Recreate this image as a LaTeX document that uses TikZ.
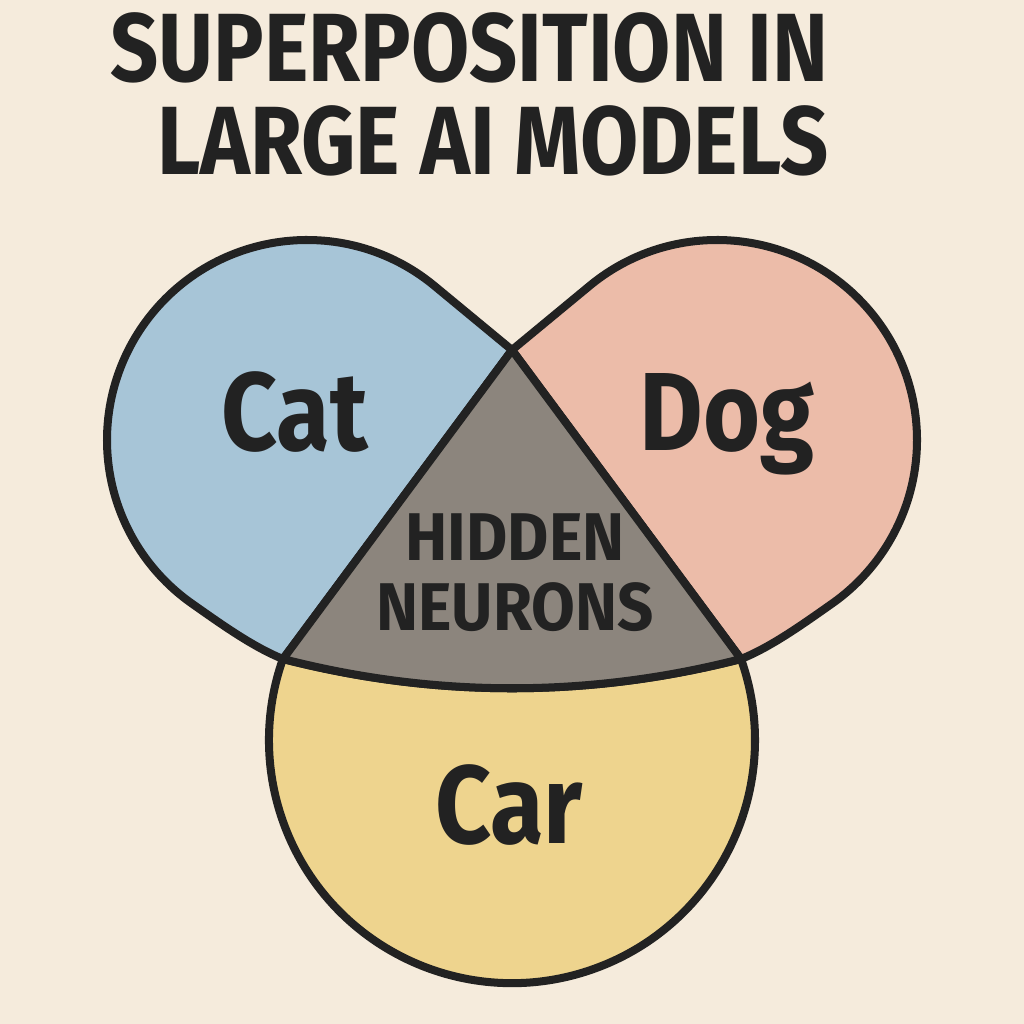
\documentclass[tikz,border=0pt]{standalone}
\usepackage{fontspec}
\setmainfont{Fira Sans}
\newfontfamily\ttlfont[FakeStretch=0.87]{Fira Sans}
\newfontfamily\lblfont[FakeStretch=0.88]{Fira Sans}
\newfontfamily\hidfont[FakeStretch=0.94]{Fira Sans}
\usetikzlibrary{calc}
\definecolor{paper}{HTML}{F5EBDC}
\definecolor{ink}{HTML}{222222}
\definecolor{catblue}{HTML}{A7C5D7}
\definecolor{dogpink}{HTML}{ECBCA9}
\definecolor{carsand}{HTML}{EED48E}
\definecolor{hidgray}{HTML}{8C857D}

\begin{document}
\begin{tikzpicture}[x=0.025cm,y=-0.025cm,line join=round]
	\tikzstyle{blob}=[draw=ink,line width=5.7pt]
	\tikzstyle{lbl}=[inner sep=0pt,anchor=base,text=ink,
	font=\lblfont\bfseries\fontsize{79}{80}\selectfont]
	\tikzstyle{hid}=[lbl,font=\hidfont\bfseries\fontsize{48}{50}\selectfont]
	\tikzstyle{ttl}=[inner sep=0pt,anchor=base west,text=ink,
	font=\ttlfont\bfseries\fontsize{69}{70}\selectfont]
\fill[paper] (0,0) rectangle (1024,1024);

\coordinate (T) at (512,350);
\coordinate (L) at (283,659);
\coordinate (R) at (741,659);
\coordinate (c1) at ($(307,440)+(-51:200)$);
\coordinate (d1) at ($(717,440)+(-129:200)$);

%\draw (307,440) circle (200);
\filldraw[blob,fill=catblue] (T) -- (c1) arc[start angle=-51,end angle=-235,radius=200]
	.. controls (221,624) and (253,647) .. (L) -- cycle;
\filldraw[blob,fill=dogpink] (T) -- (d1) arc[start angle=-129,end angle=55,radius=200]
	.. controls (803,624) and (771,647) .. (R) -- cycle;
\filldraw[blob,fill=carsand] (L) .. controls (435,698) and (589,698) .. (R)
	arc[start angle=-19.5,end angle=199.5,radius=243] -- cycle;
\filldraw[blob,fill=hidgray] (T) -- (L) .. controls (435,698) and (589,698) .. (R) -- cycle;

\node[ttl] (title1) at (110,82) {SUPERPOSITION IN};
\node[ttl] (title2) at (157,175) {LARGE AI MODELS};

\node[lbl] (cat) at (295,450) {Cat};
\node[lbl] (dog) at (727,450) {Dog};
\node[lbl] (car) at (509,843) {Car};
\node[hid] (hidden) at (515,560) {HIDDEN};
\node[hid] (neurons) at (515,630) {NEURONS};

\end{tikzpicture}
\end{document}
